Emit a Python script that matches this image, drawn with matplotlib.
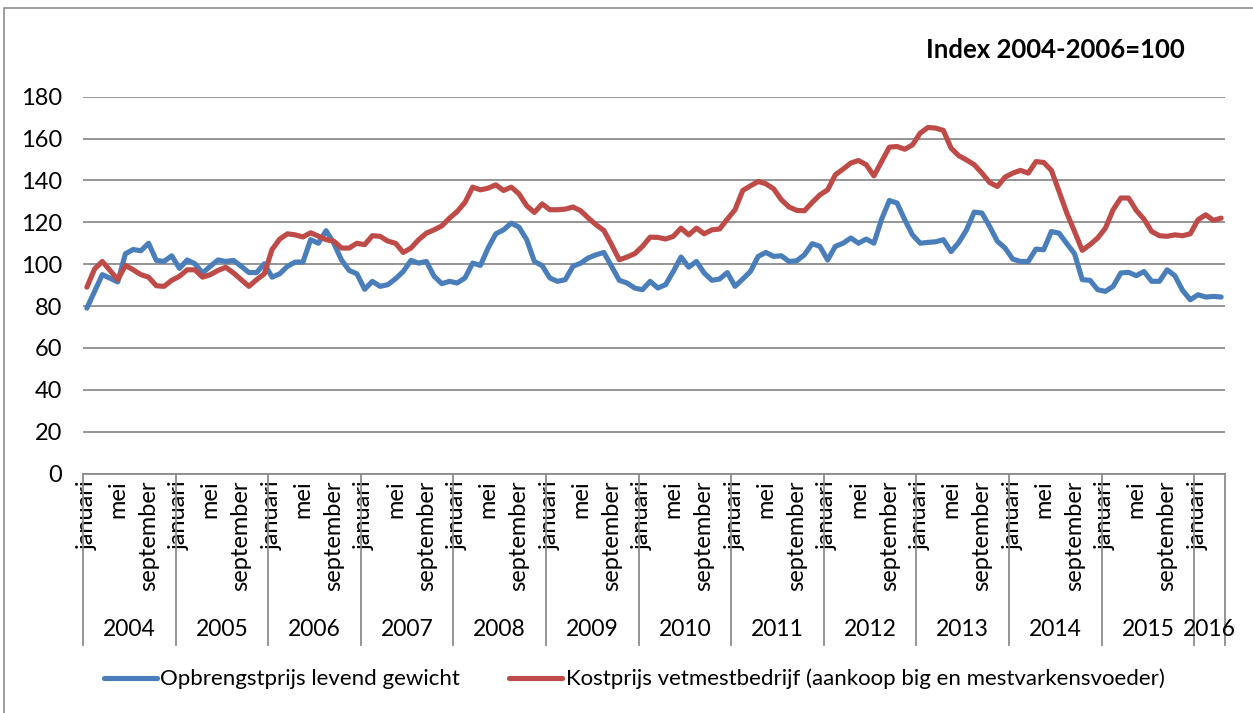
import matplotlib
matplotlib.use("Agg")
import matplotlib.pyplot as plt
from matplotlib.patches import Rectangle
import matplotlib.transforms as mtransforms

plt.rcParams['font.family'] = ['Lato', 'DejaVu Sans']

# monthly index values, januari 2004 - april 2016
years = ['2004', '2005', '2006', '2007', '2008', '2009', '2010',
         '2011', '2012', '2013', '2014', '2015', '2016']
months_per_year = [12] * 12 + [4]
month_names = ['januari', 'mei', 'september']

opbrengst = [
    79, 87, 95, 93.3, 91.5, 105, 107, 106.4, 110, 101.8, 101.3, 104,
    98, 102, 100.2, 95.8, 99, 102, 101.3, 101.8, 99, 96, 96, 100.2,
    93.8, 95.4, 99, 101, 101, 111.7, 110, 116, 110, 102, 97, 95.4,
    88, 91.8, 89.4, 90.2, 93, 96.5, 101.8, 100.5, 101.3, 94.2, 90.7, 91.8,
    91, 93.4, 100.5, 99.4, 107.7, 114.5, 116.4, 119.6, 117.7, 111.7, 101.3, 99.3,
    93.4, 91.8, 92.6, 99, 100.5, 103, 104.5, 105.6, 99, 92.3, 91, 88.6,
    87.8, 91.8, 88.6, 90.2, 96.5, 103.4, 98.6, 101.3, 95.8, 92.3, 92.9, 96,
    89.4, 92.9, 96.5, 103.7, 105.6, 103.7, 104, 101.3, 101.6, 104.5, 109.8, 108.5,
    102, 108.5, 110, 112.5, 110, 112, 110, 121.5, 130.4, 129.2, 121.2, 114,
    110, 110.4, 110.7, 111.7, 106, 110.4, 116.4, 124.9, 124.4, 118, 110.9, 107.7,
    102.4, 101.3, 101.3, 107.2, 106.9, 115.6, 114.8, 109.8, 105, 92.6, 92.3, 87.8,
    87, 89.4, 95.8, 96.1, 94.5, 96.5, 91.8, 91.8, 97.3, 94.5, 87.5, 83,
    85.4, 84.3, 84.6, 84.3,
]
kostprijs = [
    89, 97.7, 101.3, 97, 92.6, 99.4, 97.3, 95, 93.8, 89.7, 89.4, 92.3,
    94.2, 97.3, 97.3, 93.8, 95, 97, 98.5, 95.8, 92.6, 89.4, 92.6, 95.4,
    107, 112, 114.5, 114, 113, 115, 113.4, 111.7, 111, 107.7, 107.7, 110,
    109.3, 113.6, 113.3, 111, 110, 105.6, 107.7, 111.7, 114.8, 116.4, 118.3, 122,
    125.2, 129.5, 136.8, 135.5, 136.3, 137.9, 135.2, 136.8, 133.6, 127.9, 124.7, 128.8,
    126, 126, 126.3, 127.3, 125.5, 122, 118.8, 116.1, 109.3, 102.1, 103.4, 105,
    108.5, 112.9, 112.8, 112, 113.3, 117.2, 114, 117.2, 114.5, 116.4, 116.8, 121.5,
    126, 135.2, 137.4, 139.5, 138.4, 136, 130.8, 127.3, 125.7, 125.5, 129.5, 133.1,
    135.5, 142.7, 145.4, 148.3, 149.5, 147.5, 142.2, 149, 155.9, 156.2, 154.9, 157,
    162.6, 165.3, 165, 163.9, 155.4, 151.8, 149.8, 147.5, 143.5, 139, 137.1, 141.6,
    143.5, 144.8, 143.5, 149, 148.6, 144.8, 134.7, 124.4, 115.6, 106.6, 109.3, 112.5,
    117.2, 126, 131.6, 131.6, 125.7, 121.5, 115.6, 113.6, 113.3, 114, 113.6, 114.5,
    121.2, 123.6, 120.9, 122,
]

blue = '#4A7EBB'
red = '#BE4B48'
grid = '#8C8C8C'

fig = plt.figure(figsize=(12.53, 7.13), dpi=100)
fig.patches.append(Rectangle((4 / 1253, -0.1), 1.2, 1 - 8 / 713 + 0.1,
                             transform=fig.transFigure, fill=False,
                             edgecolor='#8C8C8C', lw=1.2))

ax = fig.add_axes([83 / 1253, 1 - 473.5 / 713, (1225 - 83) / 1253, (473.5 - 96.7) / 713])

n = len(opbrengst)
x = list(range(n))
ax.plot(x, opbrengst, color=blue, lw=3.7, solid_joinstyle='round', solid_capstyle='round',
        label='Opbrengstprijs levend gewicht')
ax.plot(x, kostprijs, color=red, lw=3.7, solid_joinstyle='round', solid_capstyle='round',
        label='Kostprijs vetmestbedrijf (aankoop big en mestvarkensvoeder)')

ax.set_xlim(-0.5, n - 0.5)
ax.set_ylim(0, 180)
ax.set_yticks(range(0, 181, 20))
ax.yaxis.grid(True, color=grid, lw=1.3)
ax.set_axisbelow(True)
for s in ['left', 'right', 'top']:
    ax.spines[s].set_visible(False)
ax.spines['bottom'].set_color(grid)
ax.spines['bottom'].set_linewidth(1.3)
ax.tick_params(axis='y', length=0, pad=15, labelsize=17)

# month labels every four months
ticks, labels = [], []
for i in range(n):
    if i % 4 == 0:
        ticks.append(i)
        labels.append(month_names[(i % 12) // 4])
ax.set_xticks(ticks)
ax.set_xticklabels(labels, rotation=90, fontsize=17, va='top', ha='center')
ax.tick_params(axis='x', length=0, pad=5)

# year groups
trans = mtransforms.blended_transform_factory(ax.transData, ax.transAxes)
start = 0
bounds = [-0.5]
for y, m in zip(years, months_per_year):
    end = start + m
    bounds.append(end - 0.5)
    ax.text((start + end - 1) / 2, -0.415, y, transform=trans, ha='center', va='center', fontsize=16.5)
    start = end
for b in bounds:
    ax.plot([b, b], [0, -0.455], transform=trans, color=grid, lw=1.3, clip_on=False)

fig.text(1185 / 1253, 1 - 50 / 713, 'Index 2004-2006=100', ha='right', va='center',
         fontsize=18.5, fontweight='bold')

fig.legend(loc='center', bbox_to_anchor=(634 / 1253, 1 - 679 / 713), ncol=2, frameon=False,
           fontsize=16, handlelength=2.4, handletextpad=0.15, columnspacing=2.2)

fig.savefig('out.png', dpi=100)
